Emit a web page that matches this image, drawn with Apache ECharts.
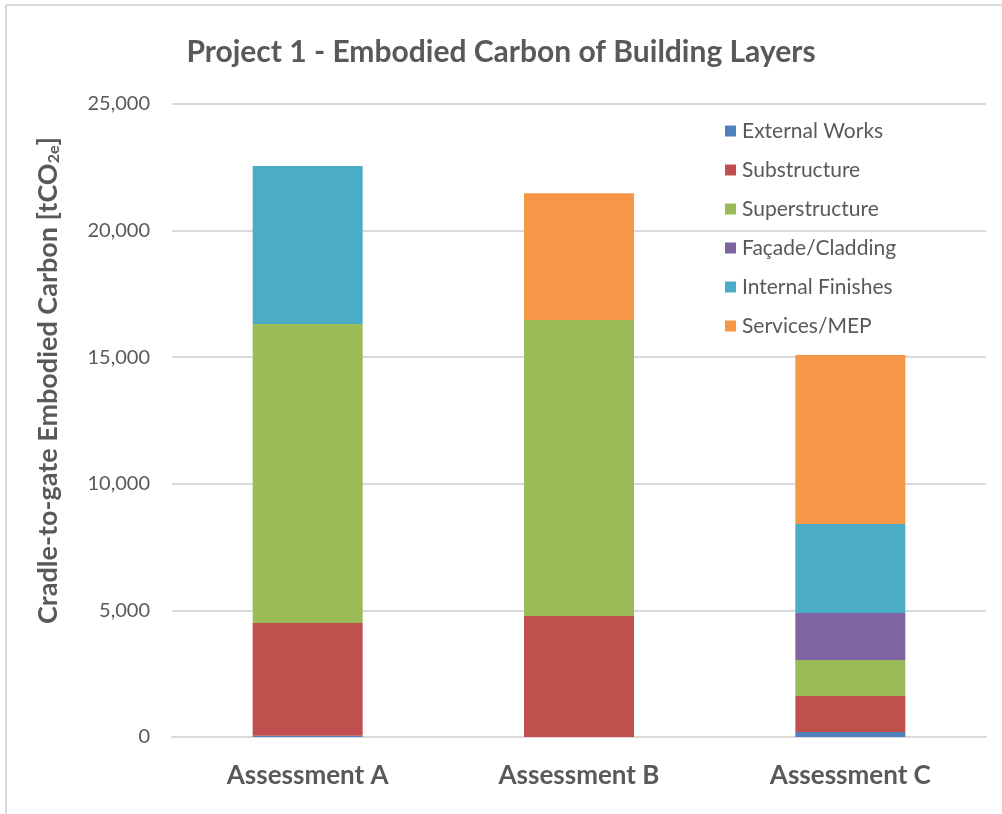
<!DOCTYPE html>
<html>
<head>
<meta charset="utf-8">
<script src="https://cdn.jsdelivr.net/npm/echarts@6/dist/echarts.min.js"></script>
<style>
  html, body { margin: 0; padding: 0; background: #fff; }
  #main { width: 1002px; height: 814px; }
</style>
</head>
<body>
<div id="main"></div>
<script>
// data (tCO2e)
const categories = ['Assessment A', 'Assessment B', 'Assessment C'];
const externalWorks = [50, 0, 200];
const substructure = [4450, 4780, 1420];
const superstructure = [11810, 11690, 1420];
const facadeCladding = [0, 0, 1860];
const internalFinishes = [6240, 0, 3510];
const servicesMep = [0, 5010, 6680];
const yTicks = [0, 5000, 10000, 15000, 20000, 25000];

const seriesNames = ['External Works', 'Substructure', 'Superstructure', 'Façade/Cladding', 'Internal Finishes', 'Services/MEP'];
const seriesData = [externalWorks, substructure, superstructure, facadeCladding, internalFinishes, servicesMep];
const colors = ['#4F81BD', '#C0504D', '#9BBB59', '#8064A2', '#4BACC6', '#F79646'];

const font = 'Lato, "Open Sans", sans-serif';

let chartDom = document.getElementById('main');
let myChart = echarts.init(chartDom);

let option = {
  color: colors,
  animation: false,
  textStyle: { fontFamily: font },
  title: {
    text: 'Project 1 - Embodied Carbon of Building Layers',
    left: 'center',
    top: 32,
    textStyle: { fontSize: 30, fontWeight: 'bold', color: '#595959', fontFamily: font }
  },
  legend: {
    orient: 'vertical',
    left: 720,
    top: 115,
    itemWidth: 11,
    itemHeight: 11,
    itemGap: 17,
    icon: 'rect',
    textStyle: { fontSize: 21, lineHeight: 22, color: '#595959', fontFamily: font, padding: [0, 0, 0, 1] }
  },
  grid: { left: 172, right: 16, top: 104, bottom: 77 },
  xAxis: {
    type: 'category',
    data: categories,
    axisLine: { lineStyle: { color: '#d9d9d9', width: 2 } },
    axisTick: { show: false },
    axisLabel: { fontSize: 26, fontWeight: 'bold', color: '#595959', margin: 26 }
  },
  yAxis: {
    type: 'value',
    min: yTicks[0],
    max: yTicks[yTicks.length - 1],
    interval: 5000,
    axisLine: { show: false },
    axisTick: { show: false },
    splitLine: { lineStyle: { color: '#d9d9d9', width: 2 } },
    axisLabel: {
      fontSize: 20, color: '#595959', margin: 22,
      formatter: v => v.toLocaleString('en-US')
    },
    name: '{m|Cradle-to-gate Embodied Carbon [tCO}{s|2e}{m|]}',
    nameLocation: 'middle',
    nameRotate: 90,
    nameGap: 110,
    nameTextStyle: {
      padding: [0, 0, 0, 80],
      rich: {
        m: { fontSize: 27, fontWeight: 'bold', color: '#595959', fontFamily: font },
        s: { fontSize: 16, fontWeight: 'bold', color: '#595959', fontFamily: font, verticalAlign: 'bottom', padding: [10, 0, 0, 0] }
      }
    }
  },
  graphic: [
    { type: 'line', shape: { x1: 6, y1: 5, x2: 1002, y2: 5 }, style: { stroke: '#d9d9d9', lineWidth: 2 }, silent: true },
    { type: 'line', shape: { x1: 6, y1: 5, x2: 6, y2: 814 }, style: { stroke: '#d9d9d9', lineWidth: 2 }, silent: true }
  ],
  series: seriesNames.map((name, i) => ({
    name: name,
    type: 'bar',
    stack: 'total',
    barWidth: 110,
    data: seriesData[i]
  }))
};

option && myChart.setOption(option);
</script>
</body>
</html>
